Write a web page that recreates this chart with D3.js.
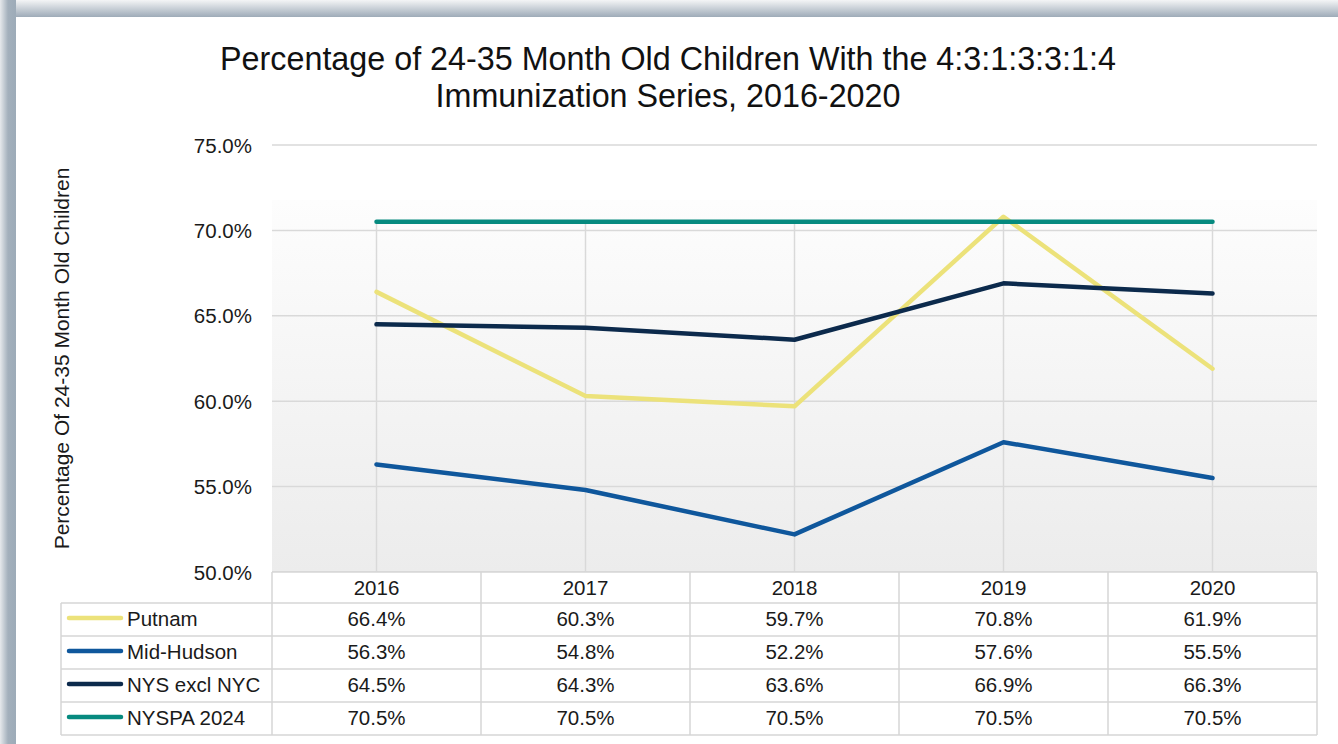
<!DOCTYPE html>
<html>
<head>
<meta charset="utf-8">
<script src="https://cdn.jsdelivr.net/npm/d3@7"></script>
<style>
  body { margin: 0; background: #fff; }
  svg { display: block; font-family: "Liberation Sans", Arial, sans-serif; }
</style>
</head>
<body>
<script>
// chart data
const years = ["2016", "2017", "2018", "2019", "2020"];
const putnam = [66.4, 60.3, 59.7, 70.8, 61.9];
const midHudson = [56.3, 54.8, 52.2, 57.6, 55.5];
const nysExclNyc = [64.5, 64.3, 63.6, 66.9, 66.3];
const nyspa2024 = [70.5, 70.5, 70.5, 70.5, 70.5];
const yTicks = [50, 55, 60, 65, 70, 75];

const series = [
  { name: "Putnam", values: putnam, color: "#ece27a" },
  { name: "Mid-Hudson", values: midHudson, color: "#0f579c" },
  { name: "NYS excl NYC", values: nysExclNyc, color: "#0c2a4c" },
  { name: "NYSPA 2024", values: nyspa2024, color: "#068a7f" }
];

const W = 1338, H = 744;
const plot = { left: 272, right: 1317, top: 145, bottom: 572 };
const rowH = 33;
const fs = 20.5;

const svg = d3.select("body").append("svg")
  .attr("width", W)
  .attr("height", H);

const defs = svg.append("defs");
const topGrad = defs.append("linearGradient").attr("id", "topFrame")
  .attr("x1", 0).attr("y1", 0).attr("x2", 0).attr("y2", 1);
topGrad.append("stop").attr("offset", "0%").attr("stop-color", "#f4f5f6");
topGrad.append("stop").attr("offset", "100%").attr("stop-color", "#9eabb8");
const leftGrad = defs.append("linearGradient").attr("id", "leftFrame")
  .attr("x1", 0).attr("y1", 0).attr("x2", 1).attr("y2", 0);
leftGrad.append("stop").attr("offset", "0%").attr("stop-color", "#e6e9ec");
leftGrad.append("stop").attr("offset", "50%").attr("stop-color", "#a3b0bc");
leftGrad.append("stop").attr("offset", "100%").attr("stop-color", "#9dabb8");
const plotGrad = defs.append("linearGradient").attr("id", "plotBg")
  .attr("x1", 0).attr("y1", 0).attr("x2", 0).attr("y2", 1);
plotGrad.append("stop").attr("offset", "0%").attr("stop-color", "#fdfdfd");
plotGrad.append("stop").attr("offset", "100%").attr("stop-color", "#ececec");

// frame around the chart
svg.append("rect").attr("x", 0).attr("y", 0).attr("width", W).attr("height", 17)
  .attr("fill", "url(#topFrame)");
svg.append("rect").attr("x", 0).attr("y", 0).attr("width", 16).attr("height", H)
  .attr("fill", "url(#leftFrame)");

// scales
const x = d3.scaleBand().domain(years).range([plot.left, plot.right]);
const y = d3.scaleLinear().domain([50, 75]).range([plot.bottom, plot.top]);
const cx = d => x(d) + x.bandwidth() / 2;

// plot background
svg.append("rect")
  .attr("x", plot.left)
  .attr("y", 200)
  .attr("width", plot.right - plot.left)
  .attr("height", plot.bottom - 200)
  .attr("fill", "url(#plotBg)");

// horizontal gridlines
svg.append("g")
  .selectAll("line")
  .data(yTicks)
  .join("line")
  .attr("x1", plot.left)
  .attr("x2", plot.right)
  .attr("y1", d => y(d))
  .attr("y2", d => y(d))
  .attr("stroke", "#d9d9d9")
  .attr("stroke-width", 1.5);

// vertical drop lines
svg.append("g")
  .selectAll("line")
  .data(years)
  .join("line")
  .attr("x1", d => cx(d))
  .attr("x2", d => cx(d))
  .attr("y1", (d, i) => y(nyspa2024[i]))
  .attr("y2", plot.bottom)
  .attr("stroke", "#d9d9d9")
  .attr("stroke-width", 1.5);

// y tick labels
svg.append("g")
  .selectAll("text")
  .data(yTicks)
  .join("text")
  .attr("x", 252)
  .attr("y", d => y(d) + 7.5)
  .attr("text-anchor", "end")
  .attr("font-size", fs)
  .attr("fill", "#1a1a1a")
  .text(d => d.toFixed(1) + "%");

// y axis title
svg.append("text")
  .attr("transform", `translate(69, ${(plot.top + plot.bottom) / 2}) rotate(-90)`)
  .attr("text-anchor", "middle")
  .attr("font-size", 21)
  .attr("fill", "#1a1a1a")
  .text("Percentage Of 24-35 Month Old Children");

// title
const title = svg.append("text")
  .attr("x", 668)
  .attr("text-anchor", "middle")
  .attr("font-size", 32.3)
  .attr("fill", "#111");
title.append("tspan").attr("x", 668).attr("y", 70)
  .text("Percentage of 24-35 Month Old Children With the 4:3:1:3:3:1:4");
title.append("tspan").attr("x", 668).attr("y", 107)
  .text("Immunization Series, 2016-2020");

// lines
const line = d3.line()
  .x((d, i) => cx(years[i]))
  .y(d => y(d));

svg.append("g")
  .selectAll("path")
  .data(series)
  .join("path")
  .attr("fill", "none")
  .attr("stroke", d => d.color)
  .attr("stroke-width", 4.5)
  .attr("stroke-linejoin", "round")
  .attr("stroke-linecap", "round")
  .attr("d", d => line(d.values));

// data table
const table = svg.append("g");
const tableTop = plot.bottom;
const legendLeft = 61;
const grid = "#d6d6d6";

table.append("rect")
  .attr("x", plot.left).attr("y", tableTop)
  .attr("width", plot.right - plot.left).attr("height", 31)
  .attr("fill", "#fff");
table.append("rect")
  .attr("x", legendLeft).attr("y", tableTop + 31)
  .attr("width", plot.right - legendLeft).attr("height", rowH * series.length)
  .attr("fill", "#fff");

// header row
table.selectAll(".hdr")
  .data(years)
  .join("text")
  .attr("class", "hdr")
  .attr("x", d => cx(d))
  .attr("y", tableTop + 23)
  .attr("text-anchor", "middle")
  .attr("font-size", fs)
  .attr("fill", "#1a1a1a")
  .text(d => d);

const rowTop = i => tableTop + 31 + i * rowH;

// horizontal table lines
table.append("line")
  .attr("x1", plot.left).attr("x2", plot.right)
  .attr("y1", tableTop).attr("y2", tableTop)
  .attr("stroke", grid).attr("stroke-width", 1.5);
table.selectAll(".hl")
  .data(d3.range(series.length + 1))
  .join("line")
  .attr("class", "hl")
  .attr("x1", legendLeft).attr("x2", plot.right)
  .attr("y1", d => rowTop(d)).attr("y2", d => rowTop(d))
  .attr("stroke", grid).attr("stroke-width", 1.5);

// vertical table lines
const colEdges = years.map(d => x(d)).concat([plot.right]);
table.selectAll(".vl")
  .data(colEdges)
  .join("line")
  .attr("class", "vl")
  .attr("x1", d => d).attr("x2", d => d)
  .attr("y1", tableTop).attr("y2", rowTop(series.length))
  .attr("stroke", grid).attr("stroke-width", 1.5);
table.append("line")
  .attr("x1", legendLeft).attr("x2", legendLeft)
  .attr("y1", rowTop(0)).attr("y2", rowTop(series.length))
  .attr("stroke", grid).attr("stroke-width", 1.5);

// rows
const rows = table.selectAll(".row")
  .data(series)
  .join("g")
  .attr("class", "row")
  .attr("transform", (d, i) => `translate(0, ${rowTop(i)})`);

rows.append("line")
  .attr("x1", 69).attr("x2", 121)
  .attr("y1", 15).attr("y2", 15)
  .attr("stroke", d => d.color)
  .attr("stroke-width", 4.5)
  .attr("stroke-linecap", "round");

rows.append("text")
  .attr("x", 127)
  .attr("y", 23)
  .attr("font-size", fs)
  .attr("fill", "#1a1a1a")
  .text(d => d.name);

rows.selectAll(".val")
  .data(d => d.values)
  .join("text")
  .attr("class", "val")
  .attr("x", (d, i) => cx(years[i]))
  .attr("y", 23)
  .attr("text-anchor", "middle")
  .attr("font-size", fs)
  .attr("fill", "#1a1a1a")
  .text(d => d.toFixed(1) + "%");
</script>
</body>
</html>
